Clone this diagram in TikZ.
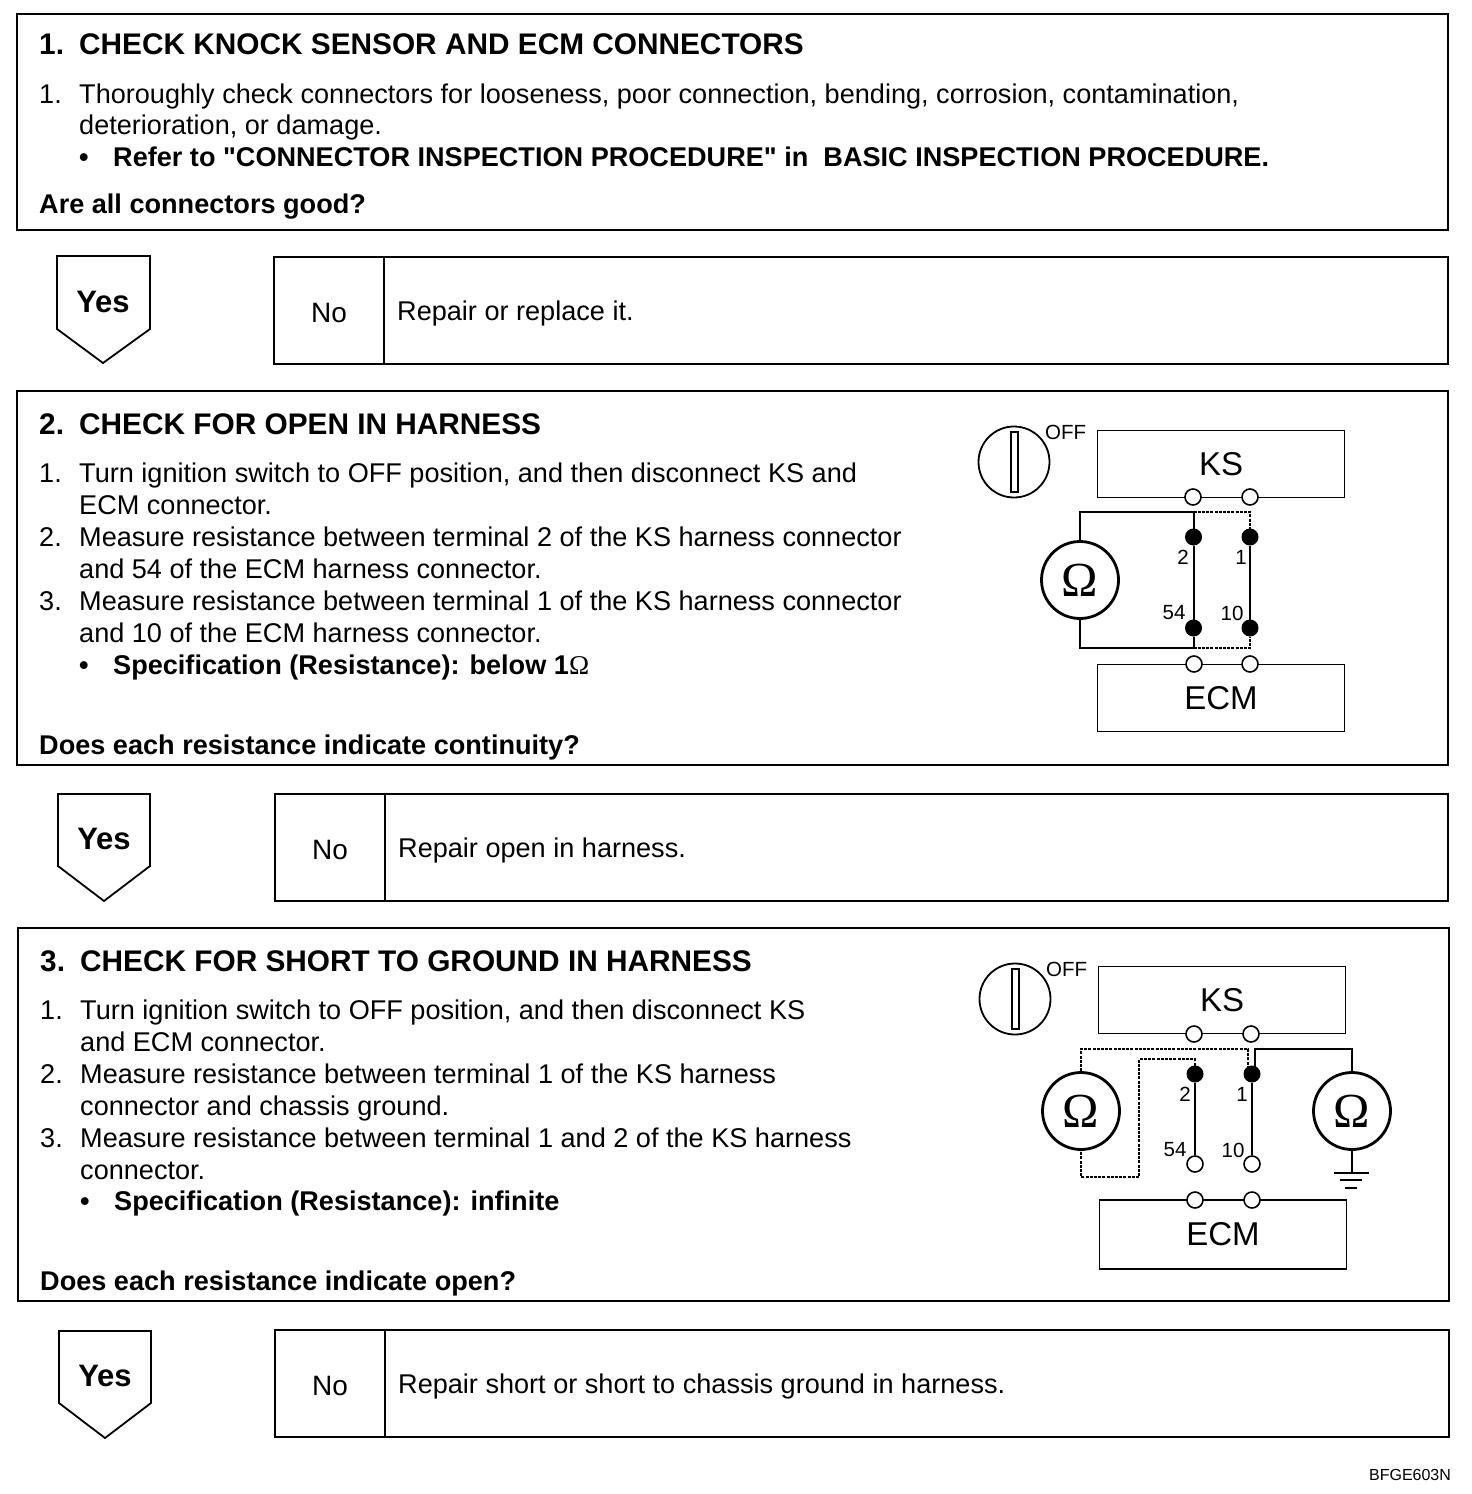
\documentclass[tikz,border=0pt]{standalone}
\usepackage{fontspec}
\setmainfont{Liberation Sans}[Ligatures=TeXOff]
\newfontfamily\ohmfont{Liberation Serif}
\usetikzlibrary{positioning}
\newcommand{\numlabel}[1]{\makebox[40pt][l]{#1}}
\newcommand{\dotlabel}{\makebox[34pt][l]{\textbullet}}

\begin{document}
\begin{tikzpicture}[
		x=1pt, y=-1pt,
		panel/.style={draw, rectangle, line width=1.8pt, outer sep=0pt, inner sep=0pt},
		headtext/.style={anchor=base west, inner sep=0pt, font=\fontsize{29.8}{32}\selectfont\bfseries},
		bodytext/.style={anchor=base west, inner sep=0pt, font=\fontsize{27.1}{32}\selectfont},
		asktext/.style={anchor=base west, inner sep=0pt, font=\fontsize{27.1}{32}\selectfont\bfseries},
		yesbox/.style={draw, line width=1.8pt, line join=miter},
		yestext/.style={inner sep=0pt, font=\fontsize{31}{32}\selectfont\bfseries},
		nocell/.style={draw, rectangle, line width=1.8pt, outer sep=0pt, inner sep=0pt, minimum width=110pt, minimum height=107pt, text height=24pt, text depth=0pt, font=\fontsize{28}{32}\selectfont},
		msgcell/.style={draw, rectangle, line width=1.8pt, outer sep=0pt, inner sep=0pt, minimum width=1064pt, minimum height=107pt},
		msgtext/.style={inner sep=0pt, yshift=-3pt, font=\fontsize{27.1}{32}\selectfont},
		unit/.style={draw, rectangle, line width=1.8pt, outer sep=0pt, inner sep=0pt, minimum width=247pt, minimum height=67pt, font=\fontsize{33}{36}\selectfont},
		opent/.style={draw, circle, fill=white, line width=1.6pt, inner sep=0pt, minimum size=16pt},
		fullt/.style={draw, circle, fill=black, line width=1pt, inner sep=0pt, minimum size=16pt},
		meter/.style={draw, circle, fill=white, line width=2.8pt, inner sep=0pt, minimum size=77pt, font=\ohmfont\fontsize{49}{49}\selectfont},
		switch/.style={draw, circle, line width=1.8pt, inner sep=0pt, minimum size=71pt},
		keybar/.style={draw, rectangle, line width=1.4pt, inner sep=0pt, minimum width=7pt, minimum height=60pt},
		wire/.style={line width=2pt},
		dotwire/.style={line width=1.2pt, dash pattern=on 3pt off 1.2pt},
		pinlabel/.style={inner sep=0pt, font=\fontsize{20.5}{22}\selectfont},
		offlabel/.style={anchor=west, inner sep=0pt, font=\fontsize{20.5}{22}\selectfont}
		]
		\useasboundingbox (0,0) rectangle (1472,1494);
		
		% 1. Connector check
		\node[panel, minimum width=1431pt, minimum height=216pt] (check1) at (732.5,122) {};
		\node[headtext] (title1) at (39,54) {\numlabel{1.}CHECK KNOCK SENSOR AND ECM CONNECTORS};
		\node[bodytext] (line1a) at (39,103) {\numlabel{1.}Thoroughly check connectors for looseness, poor connection, bending, corrosion, contamination,};
		\node[bodytext] (line1b) at (79,134) {deterioration, or damage.};
		\node[asktext] (line1c) at (79,166) {\dotlabel Refer to "CONNECTOR INSPECTION PROCEDURE" in\ \ BASIC INSPECTION PROCEDURE.};
		\node[asktext] (ask1) at (39,213) {Are all connectors good?};
		
		% Answer row 1
		\draw[yesbox] (57,256) -- (150,256) -- (150,329) -- (103,363) -- (57,329) -- cycle;
		\node[yestext] (yes1) at (103,302) {Yes};
		\node[nocell] (no1) at (329,310.5) {No};
		\node[msgcell] (msg1) [right=0pt of no1] {};
		\node[msgtext] (say1) [right=13pt of no1] {Repair or replace it.};
		
		% 2. Open check
		\node[panel, minimum width=1431pt, minimum height=374pt] (check2) at (732.5,578) {};
		\node[headtext] (title2) at (39,434) {\numlabel{2.}CHECK FOR OPEN IN HARNESS};
		\node[bodytext] (line2a) at (39,482) {\numlabel{1.}Turn ignition switch to OFF position, and then disconnect KS and};
		\node[bodytext] (line2b) at (79,514) {ECM connector.};
		\node[bodytext] (line2c) at (39,546) {\numlabel{2.}Measure resistance between terminal 2 of the KS harness connector};
		\node[bodytext] (line2d) at (79,578) {and 54 of the ECM harness connector.};
		\node[bodytext] (line2e) at (39,610) {\numlabel{3.}Measure resistance between terminal 1 of the KS harness connector};
		\node[bodytext] (line2f) at (79,642) {and 10 of the ECM harness connector.};
		\node[asktext] (line2g) at (79,674) {\dotlabel Specification (Resistance): below 1{\ohmfont\mdseries Ω}};
		\node[asktext] (ask2) at (39,754) {Does each resistance indicate continuity?};
		
		% Circuit of check 2
		\node[switch] (sw2) at (1014,462) {};
		\node[keybar] (key2) at (1014.5,462) {};
		\node[offlabel] (off2) at (1045,432) {OFF};
		\node[unit] (ks2) at (1221,464) {KS};
		\node[unit] (ecm2) at (1221,698) {ECM};
		\node[opent] (ksa2) at (1193,497) {};
		\node[opent] (ksb2) at (1250,497) {};
		\node[opent] (ecma2) at (1194,664) {};
		\node[opent] (ecmb2) at (1250,664) {};
		\node[fullt] (upa2) at (1193.5,537) {};
		\node[fullt] (upb2) at (1250,537) {};
		\node[fullt] (loa2) at (1193.5,628) {};
		\node[fullt] (lob2) at (1250,628) {};
		\node[meter] (ohm2) at (1080,580) {Ω};
		\coordinate (topa2) at (1193.5,512);
		\coordinate (topb2) at (1250,512);
		\coordinate (bota2) at (1193.5,648);
		\coordinate (botb2) at (1250,648);
		\draw[wire] (ohm2.north) |- (topa2) -- (upa2);
		\draw[wire] (ohm2.south) |- (bota2) -- (loa2);
		\draw[dotwire] (topa2) -- (topb2) -- (upb2);
		\draw[dotwire] (bota2) -- (botb2) -- (lob2);
		\draw[wire] (upa2) -- (loa2);
		\draw[wire] (upb2) -- (lob2);
		\node[pinlabel] (p2a) at (1183,557) {2};
		\node[pinlabel] (p1a) at (1241,557) {1};
		\node[pinlabel] (p54a) at (1174,613) {54};
		\node[pinlabel] (p10a) at (1232,613) {10};
		
		% Answer row 2
		\draw[yesbox] (58,794) -- (150,794) -- (150,866) -- (104,901) -- (58,866) -- cycle;
		\node[yestext] (yes2) at (104,839) {Yes};
		\node[nocell] (no2) at (330,847.5) {No};
		\node[msgcell, minimum width=1063pt] (msg2) [right=0pt of no2] {};
		\node[msgtext] (say2) [right=13pt of no2] {Repair open in harness.};
		
		% 3. Short check
		\node[panel, minimum width=1431pt, minimum height=373pt] (check3) at (733.5,1114.5) {};
		\node[headtext] (title3) at (40,971) {\numlabel{3.}CHECK FOR SHORT TO GROUND IN HARNESS};
		\node[bodytext] (line3a) at (40,1019) {\numlabel{1.}Turn ignition switch to OFF position, and then disconnect KS};
		\node[bodytext] (line3b) at (80,1051) {and ECM connector.};
		\node[bodytext] (line3c) at (40,1083) {\numlabel{2.}Measure resistance between terminal 1 of the KS harness};
		\node[bodytext] (line3d) at (80,1115) {connector and chassis ground.};
		\node[bodytext] (line3e) at (40,1147) {\numlabel{3.}Measure resistance between terminal 1 and 2 of the KS harness};
		\node[bodytext] (line3f) at (80,1179) {connector.};
		\node[asktext] (line3g) at (80,1210) {\dotlabel Specification (Resistance): infinite};
		\node[asktext] (ask3) at (40,1290) {Does each resistance indicate open?};
		
		% Circuit of check 3
		\node[switch] (sw3) at (1015,999) {};
		\node[keybar] (key3) at (1015.5,999) {};
		\node[offlabel] (off3) at (1046,969) {OFF};
		\node[unit] (ks3) at (1222,1000) {KS};
		\node[unit, minimum height=69pt] (ecm3) at (1223,1234.5) {ECM};
		\node[opent] (ksa3) at (1194,1034) {};
		\node[opent] (ksb3) at (1251,1034) {};
		\node[opent] (ecma3) at (1195,1200) {};
		\node[opent] (ecmb3) at (1252,1200) {};
		\node[fullt] (upa3) at (1195,1074) {};
		\node[fullt] (upb3) at (1252,1074) {};
		\node[opent] (loa3) at (1195,1164) {};
		\node[opent] (lob3) at (1252,1164) {};
		\node[meter] (ohm3) at (1081,1111) {Ω};
		\node[meter] (ohm4) at (1352,1111) {Ω};
		\coordinate (topb3) at (1248,1049);
		\coordinate (dipb3) at (1248,1069);
		\coordinate (hopa3) at (1195,1059);
		\coordinate (hopb3) at (1139,1177);
		\coordinate (sola3) at (1255,1049);
		\coordinate (dipc3) at (1255,1069);
		\coordinate (gnd3) at (1352,1173);
		\draw[dotwire] (ohm3.north) |- (topb3) -- (dipb3);
		\draw[dotwire] (upa3.north) |- (hopa3) -| (hopb3) -| (ohm3.south);
		\draw[wire] (upa3) -- (loa3);
		\draw[wire] (upb3) -- (lob3);
		\draw[wire] (dipc3) -- (sola3) -| (ohm4.north);
		\draw[wire] (ohm4.south) -- (gnd3);
		\draw[wire] (1334,1173) -- (1369,1173);
		\draw[wire] (1340,1180) -- (1362,1180);
		\draw[wire] (1345,1188) -- (1357,1188);
		\node[pinlabel] (p2b) at (1185,1094) {2};
		\node[pinlabel] (p1b) at (1242,1094) {1};
		\node[pinlabel] (p54b) at (1175,1150) {54};
		\node[pinlabel] (p10b) at (1233,1150) {10};
		
		% Answer row 3
		\draw[yesbox] (59,1331) -- (151,1331) -- (151,1403) -- (105,1438) -- (59,1403) -- cycle;
		\node[yestext] (yes3) at (105,1376) {Yes};
		\node[nocell] (no3) at (330,1383.5) {No};
		\node[msgcell] (msg3) [right=0pt of no3] {};
		\node[msgtext] (say3) [right=13pt of no3] {Repair short or short to chassis ground in harness.};
		
		\node[inner sep=0pt, font=\fontsize{16}{16}\selectfont] (code) at (1410,1475) {BFGE603N};
	\end{tikzpicture}
\end{document}
